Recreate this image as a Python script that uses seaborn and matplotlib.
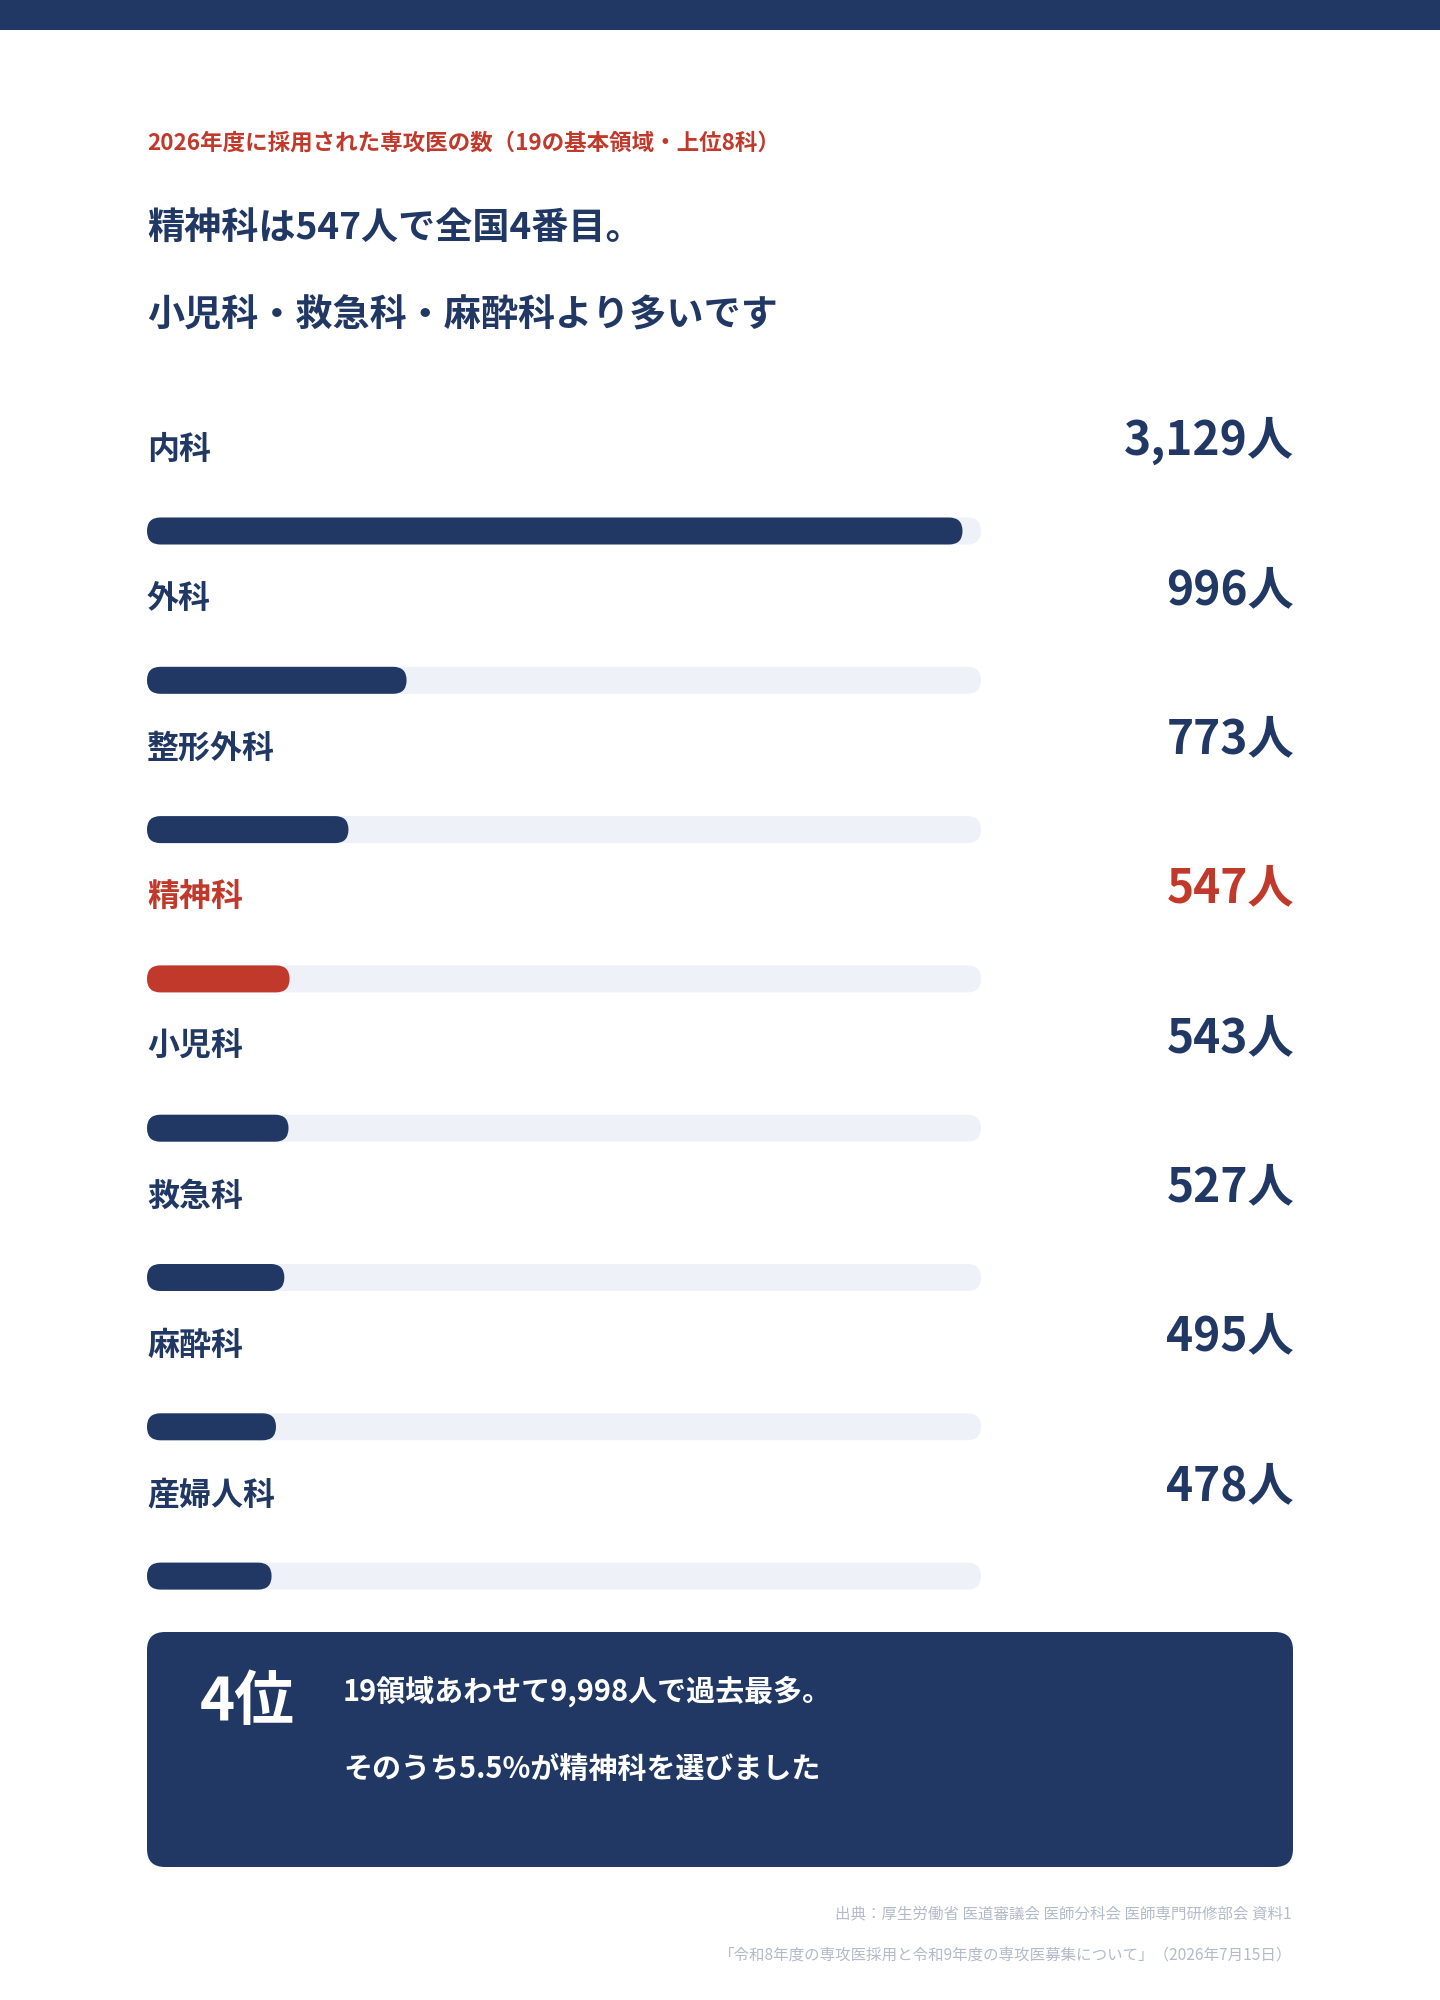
import matplotlib
matplotlib.use("Agg")
import matplotlib.pyplot as plt
import seaborn as sns
import pandas as pd
from matplotlib.patches import FancyBboxPatch, Rectangle

# Data
departments = ['内科', '外科', '整形外科', '精神科', '小児科', '救急科', '麻酔科', '産婦人科']
doctors = [3129, 996, 773, 547, 543, 527, 495, 478]
highlight = '精神科'
scale_max = 3200

subtitle = '2026年度に採用された専攻医の数（19の基本領域・上位8科）'
headline = ['精神科は547人で全国4番目。', '小児科・救急科・麻酔科より多いです']
rank_text = '4位'
box_lines = ['19領域あわせて9,998人で過去最多。', 'そのうち5.5%が精神科を選びました']
source_lines = ['出典：厚生労働省 医道審議会 医師分科会 医師専門研修部会 資料1',
                '「令和8年度の専攻医採用と令和9年度の専攻医募集について」（2026年7月15日）']

NAVY = '#213864'
RED = '#c0392b'
TRACK = '#eef1f8'
GREY = '#b3bac9'

W, H = 1440, 2000

sns.set_theme(style='white')
plt.rcParams['font.family'] = ['Noto Sans CJK JP', 'DejaVu Sans']

df = pd.DataFrame({'department': departments, 'doctors': doctors})
df['track'] = scale_max
palette = {d: (RED if d == highlight else NAVY) for d in departments}

fig = plt.figure(figsize=(W / 100, H / 100), dpi=100, facecolor='white')


def fxy(x, y):
    return x / W, 1 - y / H


# Bar area: left 147px, track ends at 981px, value text ends at 1294px
row_px = 149.3
right_px = 1294
top_px, bot_px = 531 - row_px * 1.0, 531 + row_px * 7.3
ax = fig.add_axes([147 / W, 1 - bot_px / H, (right_px - 147) / W, (bot_px - top_px) / H])
bar_h = 27 / row_px

sns.barplot(data=df, x='track', y='department', color=TRACK, saturation=1,
            width=bar_h, ax=ax)
sns.barplot(data=df, x='doctors', y='department', hue='department', palette=palette,
            saturation=1, legend=False, width=bar_h, ax=ax)

xmax = scale_max * (right_px - 147) / (981 - 147)
ax.set_xlim(0, xmax)
ax.set_ylim(7.3, -1)
ax.axis('off')

# Rounded bar ends
px_per_x = (right_px - 147) / xmax
aspect = px_per_x / row_px
for p in list(ax.patches):
    x, y = p.get_xy()
    w, h = p.get_width(), p.get_height()
    fc = p.get_facecolor()
    p.remove()
    ax.add_patch(FancyBboxPatch((x, y), w, h,
                                boxstyle=f'round,pad=0,rounding_size={abs(h) / 2 / aspect}',
                                mutation_aspect=aspect, fc=fc, ec='none'))

for i, (d, v) in enumerate(zip(departments, doctors)):
    c = RED if d == highlight else NAVY
    ax.text(0, i - 0.543, d, color=c, fontsize=23, fontweight='bold', va='center', ha='left')
    ax.text(xmax, i - 0.605, f'{v:,}人', color=c, fontsize=33.2, fontweight='bold',
            va='center', ha='right')

# Header
fig.add_artist(Rectangle((0, 1 - 30 / H), 1, 30 / H, transform=fig.transFigure,
                         color=NAVY, lw=0))
fig.text(*fxy(147, 143), subtitle, color=RED, fontsize=16.2, fontweight='bold', va='center')
fig.text(*fxy(147, 228), headline[0], color=NAVY, fontsize=26.7, fontweight='bold', va='center')
fig.text(*fxy(147, 316), headline[1], color=NAVY, fontsize=26.7, fontweight='bold', va='center')

# Summary box
fig.add_artist(FancyBboxPatch(fxy(147, 1867), (1293 - 147) / W, (1867 - 1632) / H,
                              boxstyle=f'round,pad=0,rounding_size={18 / W}',
                              mutation_aspect=W / H, transform=fig.transFigure,
                              fc=NAVY, ec='none'))
fig.text(*fxy(200, 1703), rank_text, color='white', fontsize=43, fontweight='bold', va='center')
fig.text(*fxy(343, 1691), box_lines[0], color='white', fontsize=20.9, fontweight='bold', va='center')
fig.text(*fxy(343, 1769), box_lines[1], color='white', fontsize=20.9, fontweight='bold', va='center')

# Source
fig.text(*fxy(1292, 1914), source_lines[0], color=GREY, fontsize=11.15, ha='right', va='center')
fig.text(*fxy(1292, 1955), source_lines[1], color=GREY, fontsize=11.15, ha='right', va='center')

fig.savefig('out.png', dpi=100, facecolor='white')
